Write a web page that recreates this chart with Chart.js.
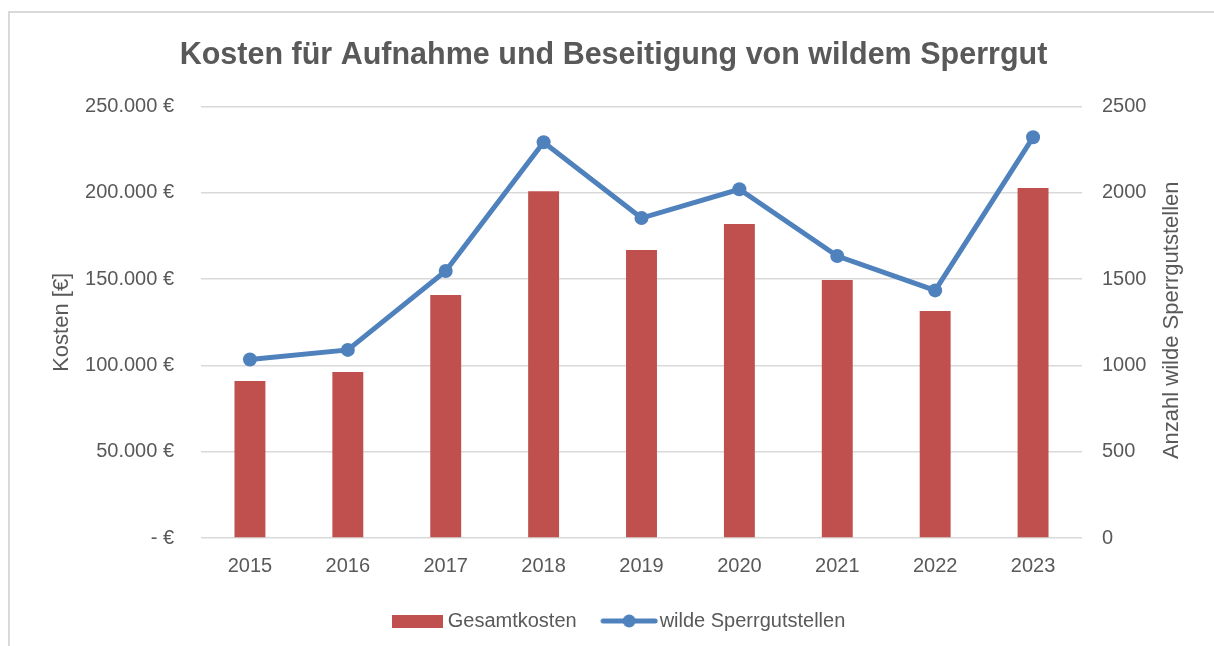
<!DOCTYPE html>
<html>
<head>
<meta charset="utf-8">
<title>Kosten wildes Sperrgut</title>
<script src="https://cdn.jsdelivr.net/npm/chart.js@4.4.1/dist/chart.umd.min.js"></script>
<style>
  html, body { margin: 0; padding: 0; background: #fff; overflow: hidden; }
  #frame { position: absolute; left: 8px; top: 11px; width: 1300px; height: 700px; border: 2px solid #d9d9d9; box-sizing: border-box; }
  #wrap { position: absolute; left: 0; top: 0; width: 1214px; height: 646px; }
</style>
</head>
<body>
<div id="frame"></div>
<div id="wrap"><canvas id="myChart" width="1214" height="646"></canvas></div>
<script>
// data
var years = ["2015", "2016", "2017", "2018", "2019", "2020", "2021", "2022", "2023"];
var gesamtkosten = [91000, 96200, 140800, 201000, 166900, 181900, 149500, 131500, 202800];
var sperrgutstellen = [1034, 1090, 1547, 2293, 1854, 2021, 1634, 1435, 2322];
var kostenTicks = [0, 50000, 100000, 150000, 200000, 250000];
var anzahlTicks = [0, 500, 1000, 1500, 2000, 2500];
var rightTitle = "Anzahl wilde Sperrgutstellen";

var FONT = "'Liberation Sans', Arial, sans-serif";
var GREY = "#595959";
var RED = "#C0504D";
var BLUE = "#4F81BD";

function euro(v){
  if (v === 0) return "- €";
  return String(v).replace(/\B(?=(\d{3})+(?!\d))/g, ".") + " €";
}

// legend symbols
function rectSymbol(){
  var c = document.createElement("canvas");
  c.width = 51; c.height = 13;
  var x = c.getContext("2d");
  x.fillStyle = RED;
  x.fillRect(0, 0, 51, 13);
  return c;
}
function lineSymbol(){
  var c = document.createElement("canvas");
  c.width = 58; c.height = 16;
  var x = c.getContext("2d");
  x.strokeStyle = BLUE;
  x.lineWidth = 5;
  x.lineCap = "round";
  x.beginPath(); x.moveTo(3, 8); x.lineTo(55, 8); x.stroke();
  x.fillStyle = BLUE;
  x.beginPath(); x.arc(29, 8, 6.5, 0, Math.PI * 2); x.fill();
  return c;
}
var symbols = [rectSymbol(), lineSymbol()];

// keep the wide item spacing but a shorter legend box, nudged right a bit
var legendTweak = {
  id: "legendTweak",
  beforeLayout: function(chart){
    var lg = chart.legend;
    if (lg && !lg._fixed){
      var fit = lg.fit, draw = lg.draw;
      lg.fit = function(){ fit.call(this); this.height = 67; };
      lg.draw = function(){
        this.ctx.save(); this.ctx.translate(7.5, 0);
        draw.call(this);
        this.ctx.restore();
      };
      lg._fixed = true;
    }
  }
};

// right axis title reads bottom-to-top like the left one
var rightAxisTitle = {
  id: "rightAxisTitle",
  afterDraw: function(chart){
    var ctx = chart.ctx, a = chart.chartArea;
    ctx.save();
    ctx.translate(1172, (a.top + a.bottom) / 2 - 2);
    ctx.rotate(-Math.PI / 2);
    ctx.font = "22px " + FONT;
    ctx.fillStyle = GREY;
    ctx.textAlign = "center";
    ctx.textBaseline = "middle";
    ctx.fillText(rightTitle, 0, 0);
    ctx.restore();
  }
};

new Chart("myChart", {
  type: "bar",
  data: {
    labels: years,
    datasets: [{
      label: "Gesamtkosten",
      data: gesamtkosten,
      backgroundColor: RED,
      yAxisID: "y",
      order: 2,
      categoryPercentage: 1,
      barPercentage: 0.316
    }, {
      type: "line",
      label: "wilde Sperrgutstellen",
      data: sperrgutstellen,
      borderColor: BLUE,
      backgroundColor: BLUE,
      borderWidth: 5,
      pointRadius: 7,
      pointHoverRadius: 7,
      pointBackgroundColor: BLUE,
      pointBorderWidth: 0,
      yAxisID: "y1",
      order: 1
    }]
  },
  plugins: [legendTweak, rightAxisTitle],
  options: {
    responsive: false,
    animation: false,
    layout: { padding: { left: 13, right: 0, top: 0, bottom: 0 } },
    plugins: {
      tooltip: { enabled: false },
      title: {
        display: true,
        text: "Kosten für Aufnahme und Beseitigung von wildem Sperrgut",
        color: GREY,
        font: { family: FONT, size: 30.5, weight: "bold" },
        padding: { top: 37, bottom: 33 }
      },
      legend: {
        position: "bottom",
        labels: {
          color: GREY,
          font: { family: FONT, size: 20 },
          usePointStyle: true,
          pointStyleWidth: 41,
          padding: 32,
          generateLabels: function(chart){
            return chart.data.datasets.map(function(ds, i){
              return { text: ds.label, pointStyle: symbols[i], datasetIndex: i, fontColor: GREY, lineWidth: 0 };
            });
          }
        }
      }
    },
    scales: {
      x: {
        afterFit: function(s){ s.height = 41; },
        grid: { display: false },
        border: { display: false },
        ticks: { color: GREY, font: { family: FONT, size: 20 }, padding: 8 }
      },
      y: {
        position: "left",
        min: 0, max: 250000,
        afterBuildTicks: function(s){ s.ticks = kostenTicks.map(function(v){ return { value: v }; }); },
        afterFit: function(s){ s.width = 188; },
        grid: { color: "#D9D9D9", lineWidth: 1.5, drawTicks: false },
        border: { display: false },
        ticks: { color: GREY, font: { family: FONT, size: 20 }, padding: 27, callback: function(v){ return euro(v); } },
        title: { display: true, text: "Kosten [€]", color: GREY, font: { family: FONT, size: 22 }, padding: { top: 36, bottom: 0 } }
      },
      y1: {
        position: "right",
        min: 0, max: 2500,
        afterBuildTicks: function(s){ s.ticks = anzahlTicks.map(function(v){ return { value: v }; }); },
        afterFit: function(s){ s.width = 132; },
        grid: { display: false, drawTicks: false },
        border: { display: false },
        ticks: { color: GREY, font: { family: FONT, size: 20 }, padding: 20, callback: function(v){ return String(v); } }
      }
    }
  }
});
</script>
</body>
</html>
